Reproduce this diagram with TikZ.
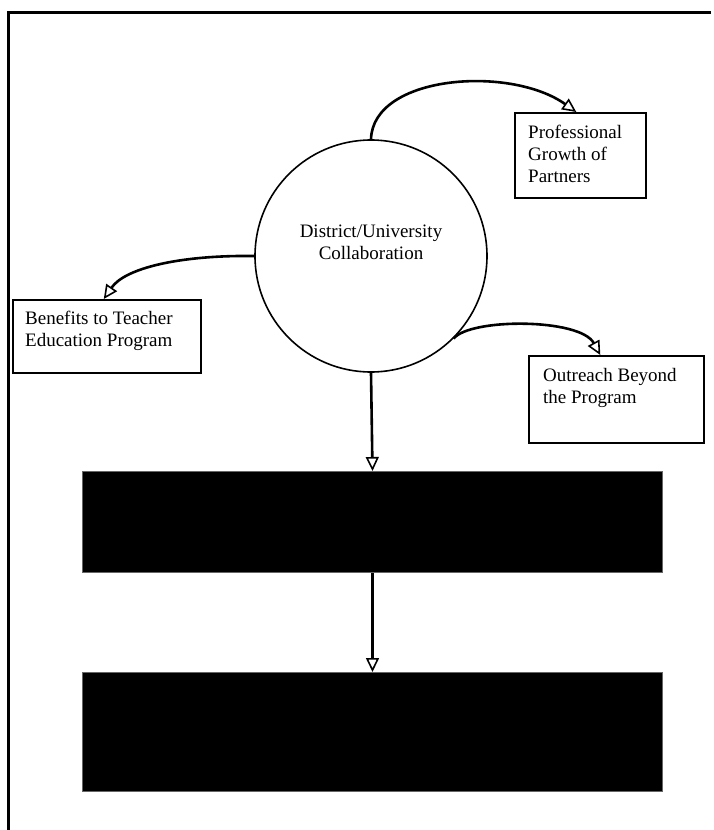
\documentclass[tikz,border=0pt]{standalone}
\usepackage{fontspec}
\setmainfont{Liberation Serif}
\usetikzlibrary{arrows.meta}

\begin{document}
\begin{tikzpicture}
  [
    x=1pt, y=-1pt,
    box/.style={draw, line width=1.6, inner sep=0, anchor=north west},
    bar/.style={fill=black, draw=black!60, line width=1, inner sep=0, anchor=north west},
    hubnode/.style={draw, circle, line width=1.6, inner sep=0, minimum size=232},
    words/.style={inner sep=0, font=\fontsize{19}{22}\selectfont},
    link/.style={line width=2.6, -{Triangle[open, length=14pt, width=13pt, line width=1.6pt]}},
  ]

  \useasboundingbox (0,0) rectangle (713,830);

  % frame
  \draw [line width=3] (711,12) -- (8,12) -- (8,830);

  % collaboration
  \node [hubnode] (hub) at (371,256) {};
  \node [words, align=center] (hubtext) at ([yshift=14pt]hub.center) {District/University\\Collaboration};

  % outcome boxes
  \node [box, minimum width=131, minimum height=85] (growth) at (514,112) {};
  \node [words, align=left, anchor=north west] (growthtext) at (528,125) {Professional\\Growth of\\Partners};

  \node [box, minimum width=188, minimum height=73] (benefits) at (12,299) {};
  \node [words, align=left, anchor=north west] (benefitstext) at (25,311) {Benefits to Teacher\\Education Program};

  \node [box, minimum width=175, minimum height=87] (outreach) at (528,355) {};
  \node [words, align=left, anchor=north west] (outreachtext) at (543,368) {Outreach Beyond\\the Program};

  % dark bars
  \node [bar, minimum width=580, minimum height=101] (upper) at (82,471) {};
  \node [bar, minimum width=580, minimum height=119] (lower) at (82,672) {};

  % links
  \draw [link] (hub.north) .. controls (373,75) and (510,65) .. ([xshift=-4pt]growth.north);
  \draw [link] (hub.west) .. controls (180,255) and (125,268) .. ([xshift=-3pt]benefits.north);
  \draw [link] (hub.-45) .. controls (470,318) and (580,318) .. ([xshift=-16pt]outreach.north);
  \draw [link] (hub.south) -- (upper.north);
  \draw [link] (upper.south) -- (lower.north);

\end{tikzpicture}
\end{document}
